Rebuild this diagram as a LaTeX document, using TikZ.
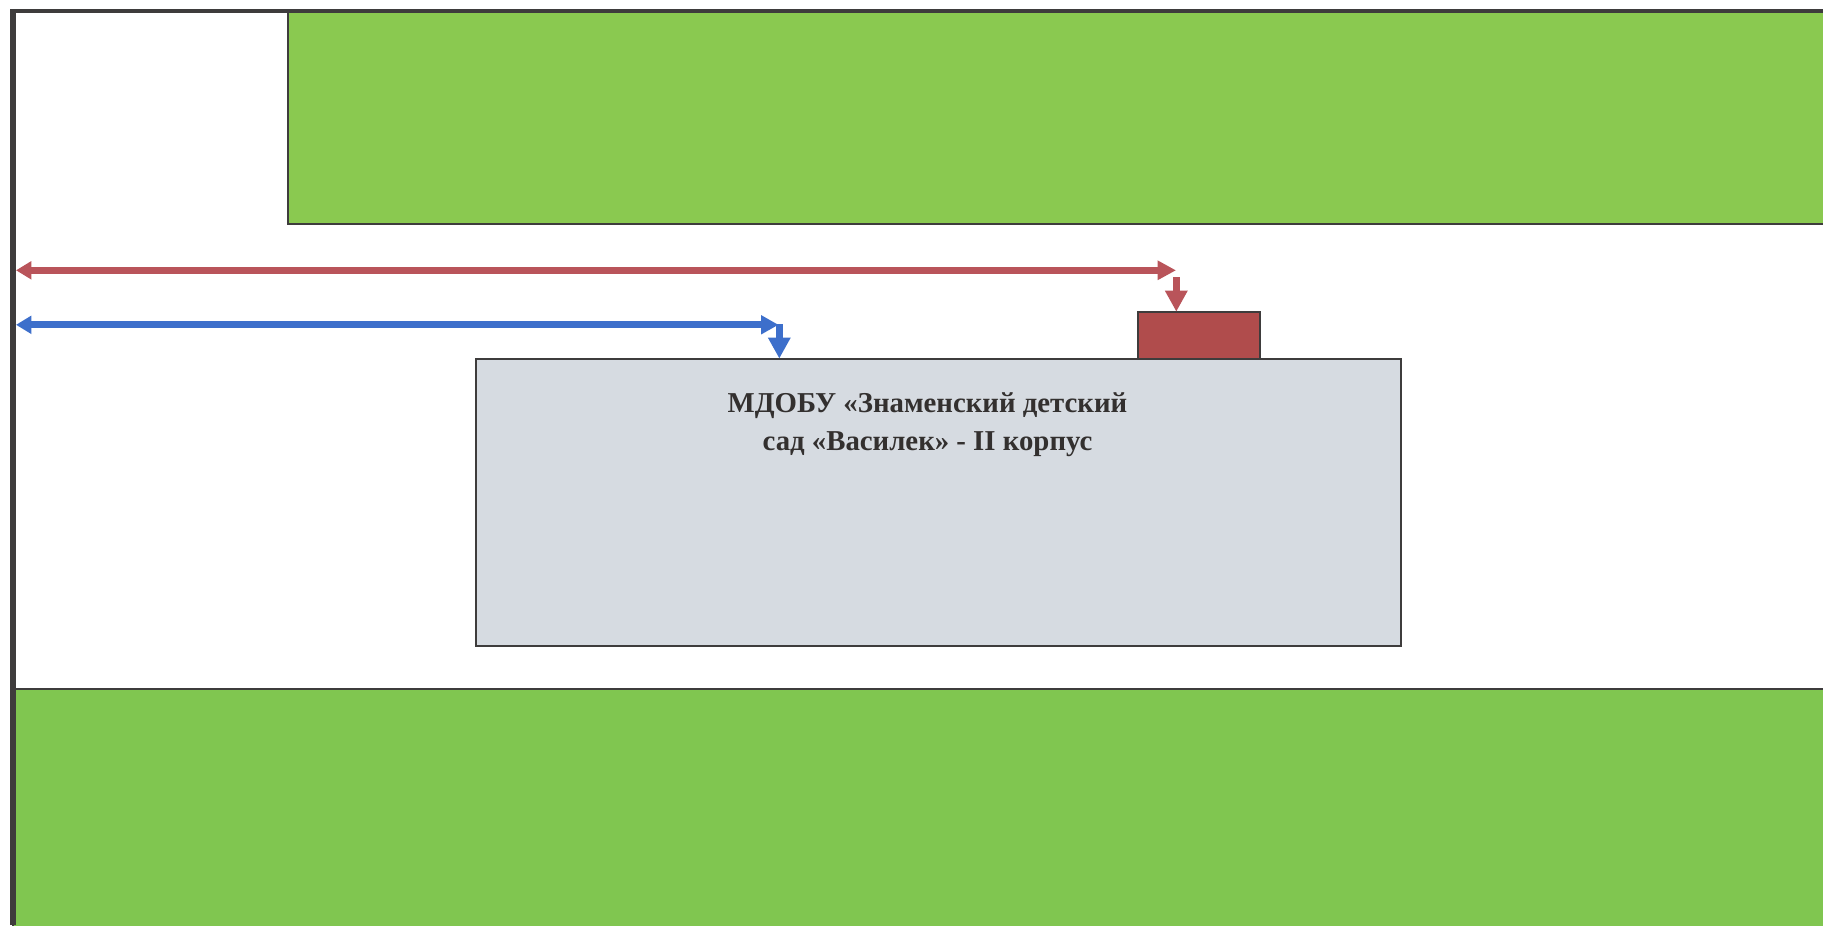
\documentclass[tikz,border=0pt]{standalone}
\usepackage{fontspec}
\setmainfont{Liberation Serif}
\usetikzlibrary{arrows.meta}
\definecolor{lawn}{HTML}{80C650}
\definecolor{lawntop}{HTML}{8AC950}
\definecolor{bldg}{HTML}{D6DBE1}
\definecolor{redbox}{HTML}{B04C4C}
\definecolor{redarrow}{HTML}{B9545A}
\definecolor{bluearrow}{HTML}{3D6FCB}
\definecolor{edge}{HTML}{3E3C3C}
\definecolor{label}{HTML}{33302F}
\tikzset{
  area/.style={draw=edge,line width=1.5pt,rectangle,inner sep=0pt,outer sep=0pt,anchor=north west},
  flowred/.style={line width=5.1pt,redarrow,{Triangle[length=11.5pt,width=13pt]}-{Triangle[length=13.8pt,width=13.8pt]}},
  flowblue/.style={line width=5pt,bluearrow,{Triangle[length=11.5pt,width=13pt]}-{Triangle[length=13pt,width=13.5pt]}},
  dropflow/.style={line width=5.5pt,-{Triangle[length=15.8pt,width=16pt]}}
}
\begin{document}
\begin{tikzpicture}[x=0.75pt,y=-0.75pt]
\useasboundingbox (0,0) rectangle (1823,925);
\fill[white] (0,0) rectangle (1823,925);
% lawns
\node[area,fill=lawntop,minimum width=1540*0.75pt,minimum height=213.2*0.75pt] (toplawn) at (287.5,10.8) {};
\node[area,fill=lawn,minimum width=1814*0.75pt,minimum height=241*0.75pt] (botlawn) at (13,688.5) {};
% frame
\coordinate (fnw) at (13,10.8);
\coordinate (fsw) at (13,925);
\coordinate (fne) at (1823,10.8);
\draw[edge,line width=3.2pt] (fnw) -- (fne);
\draw[edge,line width=4pt] (fsw) -- ([yshift=1.6pt]fnw);
% building and porch
\node[area,fill=bldg,minimum width=925.5*0.75pt,minimum height=287*0.75pt] (school) at (475.5,359) {};
\node[area,fill=redbox,minimum width=122*0.75pt,minimum height=47.5*0.75pt] (porch) at (1138,311.5) {};
% label
\node[text=label,align=center,inner sep=0pt,font=\fontsize{21.6pt}{28.2pt}\selectfont\bfseries] (title) at (927.5,424.8) {МДОБУ «Знаменский детский\\сад «Василек» - II корпус};
% routes
\coordinate (rw) at (16,270.3);
\coordinate (re) at (1176,270.3);
\coordinate (rdtop) at (1176.3,277.3);
\coordinate (rdend) at (1176.3,311.7);
\coordinate (bw) at (16,324.8);
\coordinate (be) at (778.5,324.8);
\coordinate (bdtop) at (779.3,324);
\coordinate (bdend) at (779.3,358.6);
\draw[flowred] (rw) -- (re);
\draw[dropflow,redarrow] (rdtop) -- (rdend);
\draw[flowblue] (bw) -- (be);
\draw[dropflow,bluearrow] (bdtop) -- (bdend);
\end{tikzpicture}
\end{document}
